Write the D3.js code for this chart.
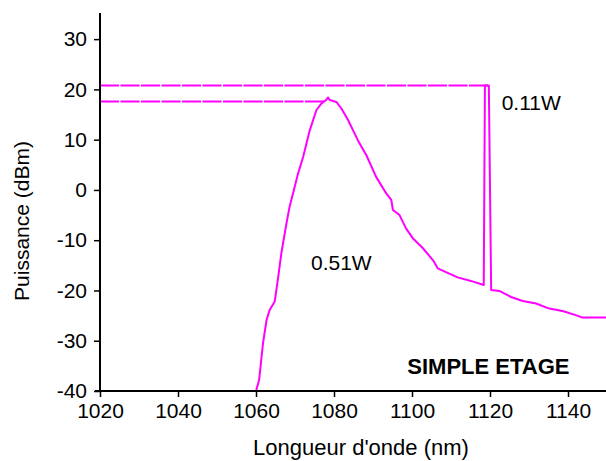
<!DOCTYPE html>
<html><head><meta charset="utf-8">
<script src="https://cdn.jsdelivr.net/npm/d3@7"></script>
<style>
html,body{margin:0;padding:0;background:#fff;}
svg text{font-family:"Liberation Sans",Arial,sans-serif;fill:#000;}
</style></head>
<body><svg id="c" width="606" height="461"></svg>
<script>
// Spectrum (wavelength nm, power dBm)
const wavelength = [1060.0,1060.8,1061.8,1062.7,1063.5,1064.8,1065.7,1066.5,1067.8,1068.6,1070.8,1072.1,1073.8,1075.5,1076.8,1078.0,1078.5,1078.9,1080.6,1081.9,1083.6,1085.3,1086.1,1088.3,1090.8,1093.4,1094.7,1095.1,1096.8,1098.5,1100.2,1102.8,1105.4,1106.6,1111.7,1115.1,1118.4,1118.7,1119.7,1120.3,1122.4,1125.4,1128.4,1131.8,1135.2,1138.6,1142.0,1143.7,1150.0];
const power = [-40,-37.8,-30.5,-25.9,-23.9,-22.2,-17.3,-12.6,-6.7,-3.4,3.3,6.6,11.9,15.9,17.2,17.9,18.4,17.9,17.5,16.2,13.9,11.2,9.9,6.9,2.6,-0.7,-2.0,-4.0,-5.0,-7.7,-9.6,-11.6,-14.0,-15.6,-17.4,-18.1,-18.9,20.8,20.8,-19.9,-20.1,-21.3,-22.1,-22.6,-23.6,-24.1,-24.9,-25.4,-25.4];
// Peak level reference lines (dBm) and their end wavelengths
const refLevels = [20.8, 17.6];
const refEnds = [1119.7, 1077.5];
const xTicks = [1020,1040,1060,1080,1100,1120,1140];
const yTicks = [-40,-30,-20,-10,0,10,20,30];
const annotations = [
  {text:"0.11W", x:1123.0, y:16.0, bold:false},
  {text:"0.51W", x:1074.1, y:-16.0, bold:false},
  {text:"SIMPLE ETAGE", x:1098.8, y:-36.7, bold:true}
];

const svg = d3.select("#c");
const x = d3.scaleLinear().domain([1020,1150]).range([100,607]);
const y = d3.scaleLinear().domain([-40,35]).range([391,14]);
const col = "#ff00ff";

// reference dashed lines
svg.selectAll("line.ref").data(refLevels).enter().append("line")
  .attr("x1", x(1020)).attr("x2", (d,i)=>x(refEnds[i]))
  .attr("y1", d=>y(d)).attr("y2", d=>y(d))
  .attr("stroke", col).attr("stroke-width", 2).attr("stroke-dasharray","19,1.5");

// spectrum
const line = d3.line().x((d,i)=>x(wavelength[i])).y((d,i)=>y(power[i]));
svg.append("path").datum(power).attr("d", line)
  .attr("fill","none").attr("stroke",col).attr("stroke-width",2).attr("stroke-linejoin","round");

// axes
const fmt = d => String(d);
const xa = svg.append("g").attr("transform","translate(0,391)")
  .call(d3.axisBottom(x).tickValues(xTicks).tickSize(6).tickPadding(6).tickFormat(fmt));
const ya = svg.append("g").attr("transform","translate(100,0)")
  .call(d3.axisLeft(y).tickValues(yTicks).tickSize(6).tickPadding(7).tickFormat(fmt));
[xa,ya].forEach(g=>{
  g.select(".domain").attr("stroke","#000").attr("stroke-width",2);
  g.selectAll(".tick line").attr("stroke","#000").attr("stroke-width",1.5);
  g.selectAll("text").attr("font-size",21).attr("fill","#000").style("font-family","Liberation Sans, Arial, sans-serif");
});
xa.select(".domain").attr("d","M95,0H606");
ya.select(".domain").attr("d","M0,13V391");

// axis titles
svg.append("text").attr("x",361).attr("y",455).attr("text-anchor","middle")
  .attr("font-size",22).text("Longueur d'onde (nm)");
svg.append("text").attr("transform","translate(29,221) rotate(-90)").attr("text-anchor","middle")
  .attr("font-size",21).text("Puissance (dBm)");

// annotations
svg.selectAll("text.ann").data(annotations).enter().append("text")
  .attr("x",d=>x(d.x)).attr("y",d=>y(d.y))
  .attr("font-size",d=>d.bold?22:21).attr("font-weight",d=>d.bold?"bold":"normal")
  .text(d=>d.text);
</script></body></html>
